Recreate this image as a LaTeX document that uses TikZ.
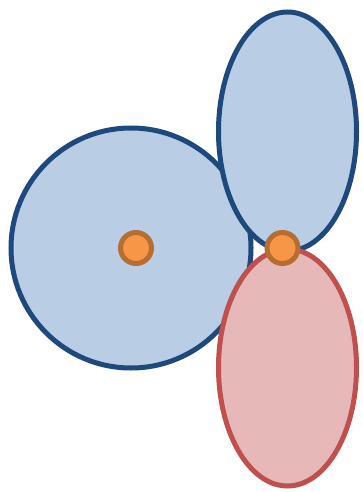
\documentclass[tikz,border=0pt]{standalone}
\definecolor{bfill}{HTML}{B9CDE5}
\definecolor{bline}{HTML}{1F497D}
\definecolor{rfill}{HTML}{E6B9B8}
\definecolor{rline}{HTML}{C0504D}
\definecolor{ofill}{HTML}{F79646}
\definecolor{oline}{HTML}{B66D31}
\begin{document}
\begin{tikzpicture}[x=1pt,y=-1pt,
  bluesh/.style={fill=bfill,draw=bline,line width=5pt},
  redsh/.style={fill=rfill,draw=rline,line width=5pt},
  dot/.style={circle,fill=ofill,draw=oline,line width=5pt,minimum size=31pt,inner sep=0pt}]
\useasboundingbox (0,0) rectangle (362,492);
\path[bluesh] (131,248) circle [radius=120];
\path[bluesh] (287.5,131.5) ellipse [x radius=69, y radius=119.5];
\path[redsh] (287.5,367.5) ellipse [x radius=69, y radius=118.5];
\node[dot] (d1) at (136,248) {};
\node[dot] (d2) at (282.5,248) {};
\end{tikzpicture}
\end{document}
